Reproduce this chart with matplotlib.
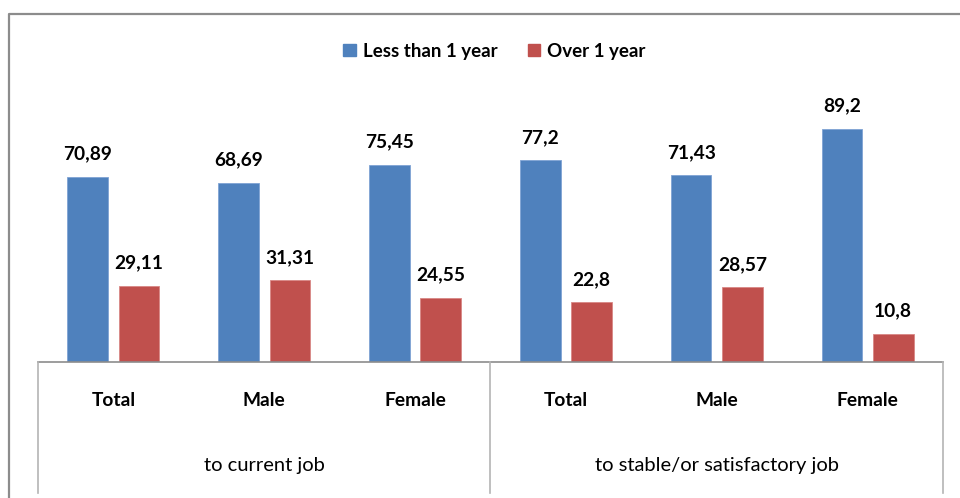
import matplotlib
matplotlib.use("Agg")
import matplotlib.pyplot as plt
import matplotlib.transforms as mtransforms
from matplotlib.lines import Line2D
from matplotlib.patches import Patch

plt.rcParams['font.family'] = ['Lato', 'DejaVu Sans']

# Data
groups = ["to current job", "to stable/or satisfactory job"]
categories = ["Total", "Male", "Female", "Total", "Male", "Female"]
less_than_1 = [70.89, 68.69, 75.45, 77.2, 71.43, 89.2]
over_1 = [29.11, 31.31, 24.55, 22.8, 28.57, 10.8]
less_labels = ["70,89", "68,69", "75,45", "77,2", "71,43", "89,2"]
over_labels = ["29,11", "31,31", "24,55", "22,8", "28,57", "10,8"]

blue = "#4F81BD"
red = "#C0504D"

fig = plt.figure(figsize=(9.6, 4.98), dpi=100)
ax = fig.add_axes([38 / 960, 1 - 362 / 498, (943 - 38) / 960, 261.2 / 498])

x = [i + 0.5 for i in range(len(categories))]
w = 0.27
off = 0.17
b1 = ax.bar([v - off for v in x], less_than_1, w, color=blue, edgecolor="#7fa3d4", linewidth=0.6)
b2 = ax.bar([v + off for v in x], over_1, w, color=red, edgecolor="#d98785", linewidth=0.6)

for bars, labs in ((b1, less_labels), (b2, over_labels)):
    for rect, lab in zip(bars, labs):
        ax.annotate(lab, (rect.get_x() + rect.get_width() / 2, rect.get_height()),
                    xytext=(0, 16.5), textcoords="offset points",
                    ha="center", va="center", fontsize=13.8, fontweight="bold")

ax.set_xlim(0, 6)
ax.set_ylim(0, 100)
ax.axis("off")

# baseline and group separators
trans = mtransforms.blended_transform_factory(ax.transData, ax.transAxes)
ax.plot([0, 6], [0, 0], color="#8c8c8c", lw=1.2, transform=trans, clip_on=False)
for xv in (0, 3, 6):
    ax.plot([xv, xv], [0, -131 / 261.2], color="#b4b4b4", lw=1.2, transform=trans, clip_on=False)

for xv, cat in zip(x, categories):
    ax.text(xv, -38 / 261.2, cat, transform=trans, ha="center", va="center",
            fontsize=13.8, fontweight="bold")
for gi, g in enumerate(groups):
    ax.text(gi * 3 + 1.5, -103 / 261.2, g, transform=trans, ha="center", va="center",
            fontsize=14.5)

handles = [Patch(facecolor=blue, edgecolor=blue), Patch(facecolor=red, edgecolor=red)]
fig.legend(handles, ["Less than 1 year", "Over 1 year"], loc="center",
           bbox_to_anchor=(494.5 / 960, 1 - 51 / 498), ncol=2, frameon=False,
           prop={"size": 13.5, "weight": "bold"}, handlelength=0.65, handleheight=0.65,
           handletextpad=0.4, columnspacing=1.6)

# outer chart border (top and left visible)
fig.add_artist(Line2D([9 / 960, 9 / 960, 1], [0, 1 - 14 / 498, 1 - 14 / 498],
                      color="#8c8c8c", lw=1.6, transform=fig.transFigure))

fig.savefig("out.png", dpi=100)
